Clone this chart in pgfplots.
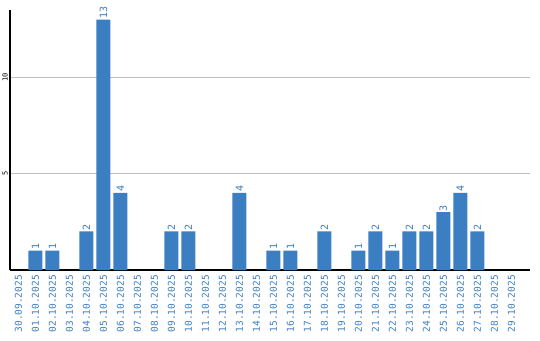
\documentclass[border=0pt]{standalone}
\usepackage{pgfplots}
\pgfplotsset{compat=1.18}
\usepackage{fontspec}
\setmainfont{DejaVu Sans}
\newfontfamily\monof{DejaVu Sans Mono}
\definecolor{barblue}{RGB}{59,126,194}
\begin{document}
\begin{tikzpicture}
\begin{axis}[
  /pgf/number format/assume math mode=true,
  scale only axis, width=520pt, height=260pt,
  xmin=-0.5, xmax=30.1, ymin=0, ymax=13.5,
  axis x line*=bottom, axis y line*=left,
  axis line style={line width=1.1pt, black},
  ytick={5,10}, ymajorgrids, grid style={black!25, line width=0.8pt},
  xtick={0,...,29},
  xticklabels={30.09.2025,01.10.2025,02.10.2025,03.10.2025,04.10.2025,05.10.2025,06.10.2025,07.10.2025,08.10.2025,09.10.2025,10.10.2025,11.10.2025,12.10.2025,13.10.2025,14.10.2025,15.10.2025,16.10.2025,17.10.2025,18.10.2025,19.10.2025,20.10.2025,21.10.2025,22.10.2025,23.10.2025,24.10.2025,25.10.2025,26.10.2025,27.10.2025,28.10.2025,29.10.2025},
  x tick label style={rotate=90, anchor=east, font=\monof\fontsize{9.5}{10}\selectfont, text=barblue, inner sep=1pt},
  xticklabel shift=4pt,
  y tick label style={rotate=90, anchor=south, font=\monof\fontsize{7}{8}\selectfont, inner sep=1pt},
  yticklabel shift=1pt,
  major tick length=0pt,
  ybar, bar width=14pt, bar shift=0pt,
  nodes near coords,
  every node near coord/.append style={rotate=90, anchor=west, font=\monof\fontsize{10}{11}\selectfont, text=barblue, inner sep=1pt},
  clip=false,
]
\addplot[fill=barblue, draw=none] coordinates {
(1,1) (2,1) (4,2) (5,13) (6,4) (9,2) (10,2) (13,4) (15,1) (16,1) (18,2)
(20,1) (21,2) (22,1) (23,2) (24,2) (25,3) (26,4) (27,2)
};
\end{axis}
\useasboundingbox ([xshift=-10pt,yshift=-70pt]current axis.south west) rectangle ([xshift=10pt,yshift=10pt]current axis.north east);
\end{tikzpicture}
\end{document}
